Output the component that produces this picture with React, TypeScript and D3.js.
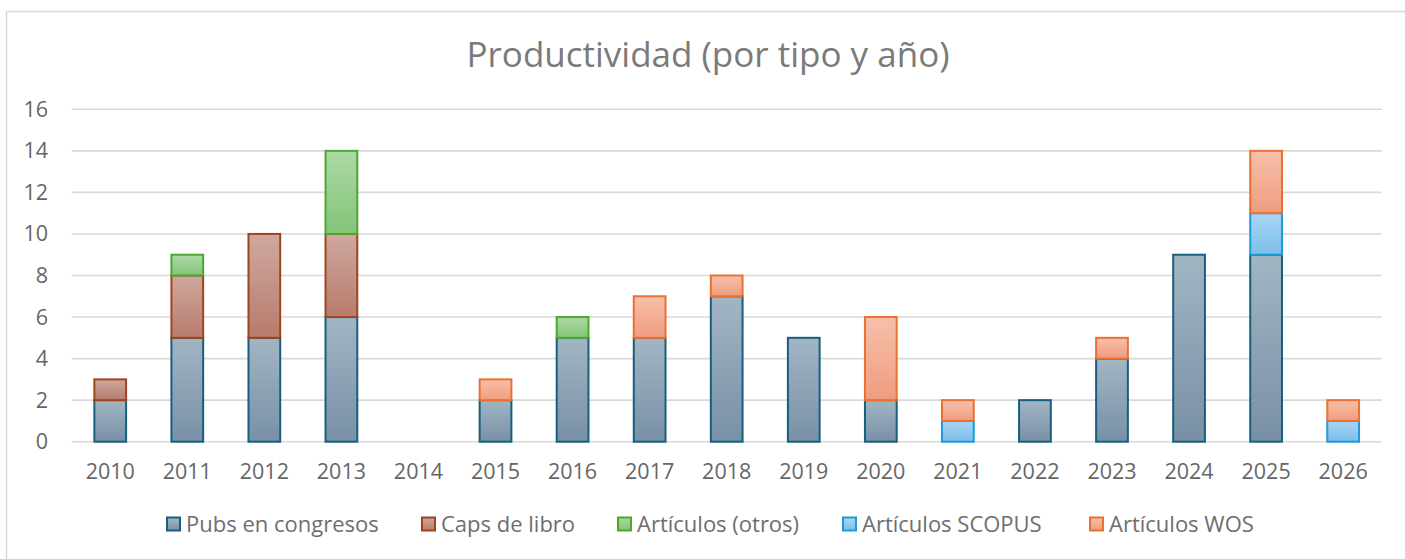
import React from "react";
import * as d3 from "d3";

const years = ["2010","2011","2012","2013","2014","2015","2016","2017","2018","2019","2020","2021","2022","2023","2024","2025","2026"];
const pubsCongresos = [2,5,5,6,0,2,5,5,7,5,2,0,2,4,9,9,0];
const capsLibro = [1,3,5,4,0,0,0,0,0,0,0,0,0,0,0,0,0];
const articulosOtros = [0,1,0,4,0,0,1,0,0,0,0,0,0,0,0,0,0];
const articulosScopus = [0,0,0,0,0,0,0,0,0,0,0,1,0,0,0,2,1];
const articulosWos = [0,0,0,0,0,1,0,2,1,0,4,1,0,1,0,3,1];
const yTicks = [0,2,4,6,8,10,12,14,16];
const title = "Productividad (por tipo y año)";

const seriesNames = ["Pubs en congresos","Caps de libro","Artículos (otros)","Artículos SCOPUS","Artículos WOS"];
const seriesValues = [pubsCongresos, capsLibro, articulosOtros, articulosScopus, articulosWos];
const styles = [
  { top: "#a2b5c3", bottom: "#7890a7", stroke: "#175f80" },
  { top: "#cfa89f", bottom: "#b77c6c", stroke: "#a0441c" },
  { top: "#acd9a5", bottom: "#84c479", stroke: "#4ea72e" },
  { top: "#aad5f3", bottom: "#7bbeeb", stroke: "#1a9cd8" },
  { top: "#f6c0ab", bottom: "#f09c7e", stroke: "#e97132" },
];
const legendX = [166, 421, 617, 842, 1089];

const FONT = "'Open Sans', 'Liberation Sans', sans-serif";

export default function App() {
  const W = 1405, H = 559;
  const x0 = 71.7, x1 = 1381.7;
  const x = d3.scaleBand().domain(years).range([x0, x1]).paddingInner(0.588).paddingOuter(0.294);
  const y = d3.scaleLinear().domain([0, 16]).range([441.7, 109.3]);

  const table = years.map((yr, i) => {
    const row: any = { year: yr };
    seriesNames.forEach((s, k) => (row[s] = seriesValues[k][i]));
    return row;
  });
  const stacked = d3.stack().keys(seriesNames)(table);

  return (
    <div style={{ position: "absolute", left: 0, top: 0 }}>
      <svg width={W} height={H} style={{ display: "block", background: "#fff" }}>
        <defs>
          {styles.map((s, k) => (
            <linearGradient key={k} id={`g${k}`} x1="0" y1="0" x2="0" y2="1">
              <stop offset="0" stopColor={s.top} />
              <stop offset="1" stopColor={s.bottom} />
            </linearGradient>
          ))}
        </defs>
        <rect x={6.5} y={11.5} width={W + 10} height={H + 10} fill="none" stroke="#d9d9d9" strokeWidth={1.5} />
        <text x={708} y={67} textAnchor="middle" fontFamily={FONT} fontSize={35} fill="#7a7a7a">{title}</text>
        {yTicks.map((t) => (
          <g key={t}>
            <line x1={x0} x2={x1} y1={y(t)} y2={y(t)} stroke="#d9d9d9" strokeWidth={1.6} />
            <text x={48} y={y(t)} dy="0.35em" textAnchor="end" fontFamily={FONT} fontSize={21.5} fill="#666">{t}</text>
          </g>
        ))}
        {stacked.map((layer, k) => (
          <g key={k}>
            {layer.map((d, i) => {
              const v = d[1] - d[0];
              if (v <= 0) return null;
              return (
                <rect key={i} x={x(years[i])!} width={x.bandwidth()} y={y(d[1])} height={y(d[0]) - y(d[1])}
                  fill={`url(#g${k})`} stroke={styles[k].stroke} strokeWidth={2} />
              );
            })}
          </g>
        ))}
        {years.map((yr) => (
          <text key={yr} x={x(yr)! + x.bandwidth() / 2} y={471} dy="0.35em" textAnchor="middle" fontFamily={FONT} fontSize={21.5} fill="#666">{yr}</text>
        ))}
        {seriesNames.map((s, k) => (
          <g key={s} transform={`translate(${legendX[k]},524)`}>
            <rect x={1} y={-6.5} width={13} height={13} fill={`url(#g${k})`} stroke={styles[k].stroke} strokeWidth={2} />
            <text x={20} y={0} dy="0.35em" fontFamily={FONT} fontSize={22} fill="#6e6e6e">{s}</text>
          </g>
        ))}
      </svg>
    </div>
  );
}
